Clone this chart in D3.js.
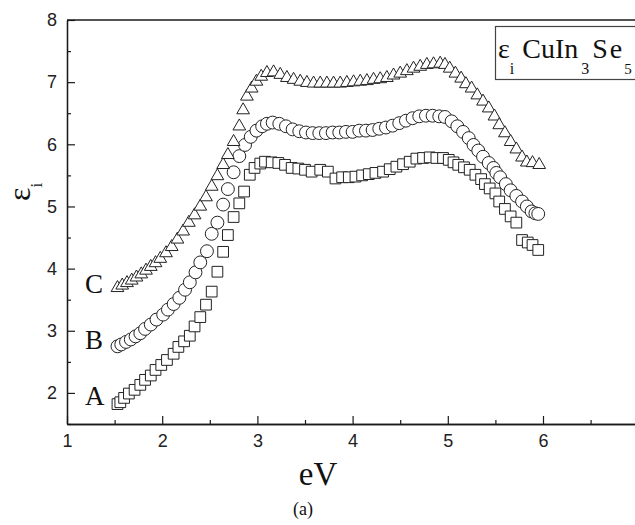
<!DOCTYPE html>
<html>
<head>
<meta charset="utf-8">
<script src="https://cdn.jsdelivr.net/npm/d3@7"></script>
<style>
  body { margin: 0; background: #fff; }
  svg { display: block; }
</style>
</head>
<body>
<div id="chart"></div>
<script>
// curve A (squares)
const aX = [1.53,1.56,1.60,1.65,1.71,1.77,1.82,1.88,1.93,1.99,2.05,2.12,2.17,2.23,2.29,2.34,2.40,2.46,2.52,2.58,2.64,2.69,2.75,2.81,2.86,2.92,2.97,3.03,3.08,3.15,3.22,3.29,3.36,3.43,3.50,3.57,3.66,3.74,3.82,3.89,3.96,4.03,4.10,4.17,4.24,4.32,4.39,4.46,4.53,4.60,4.67,4.74,4.81,4.88,4.95,5.01,5.06,5.11,5.17,5.23,5.29,5.35,5.39,5.44,5.50,5.54,5.60,5.66,5.72,5.78,5.84,5.89,5.95];
const aY = [1.82,1.85,1.92,1.99,2.05,2.13,2.21,2.28,2.37,2.45,2.53,2.63,2.74,2.83,2.92,3.07,3.22,3.42,3.63,3.95,4.27,4.54,4.83,5.05,5.24,5.51,5.62,5.69,5.72,5.71,5.70,5.67,5.62,5.61,5.59,5.56,5.59,5.56,5.45,5.47,5.47,5.48,5.50,5.52,5.54,5.56,5.60,5.64,5.68,5.72,5.77,5.78,5.79,5.78,5.78,5.75,5.71,5.67,5.63,5.59,5.51,5.44,5.36,5.29,5.21,5.08,4.96,4.84,4.74,4.46,4.42,4.38,4.30];

// curve B (circles)
const bX = [1.53,1.57,1.62,1.67,1.72,1.77,1.82,1.88,1.94,2.01,2.06,2.12,2.18,2.24,2.29,2.35,2.40,2.47,2.52,2.58,2.64,2.69,2.75,2.81,2.87,2.93,2.99,3.05,3.10,3.16,3.23,3.30,3.37,3.44,3.51,3.58,3.65,3.72,3.79,3.86,3.93,4.00,4.07,4.14,4.21,4.28,4.35,4.42,4.49,4.56,4.63,4.70,4.77,4.84,4.91,4.97,5.04,5.10,5.16,5.22,5.27,5.32,5.37,5.43,5.48,5.51,5.55,5.61,5.66,5.72,5.78,5.83,5.88,5.92,5.95];
const bY = [2.75,2.78,2.82,2.86,2.91,2.96,3.03,3.10,3.18,3.26,3.34,3.43,3.53,3.66,3.78,3.94,4.10,4.28,4.56,4.74,5.03,5.28,5.55,5.81,5.99,6.12,6.22,6.29,6.33,6.35,6.33,6.29,6.24,6.21,6.19,6.18,6.18,6.18,6.19,6.19,6.20,6.20,6.22,6.22,6.23,6.25,6.27,6.30,6.34,6.38,6.42,6.45,6.46,6.46,6.45,6.44,6.37,6.29,6.20,6.10,5.99,5.90,5.80,5.70,5.62,5.54,5.47,5.36,5.26,5.17,5.08,5.00,4.92,4.89,4.88];

// curve C (triangles)
const cX = [1.53,1.58,1.63,1.68,1.73,1.78,1.83,1.88,1.93,1.98,2.04,2.10,2.16,2.22,2.28,2.34,2.40,2.46,2.52,2.58,2.64,2.69,2.75,2.81,2.85,2.89,2.94,2.99,3.04,3.10,3.17,3.24,3.31,3.38,3.45,3.52,3.59,3.66,3.73,3.80,3.87,3.94,4.01,4.08,4.15,4.22,4.29,4.36,4.43,4.50,4.57,4.64,4.71,4.78,4.85,4.92,4.97,5.02,5.08,5.14,5.19,5.25,5.31,5.37,5.43,5.49,5.54,5.60,5.66,5.72,5.78,5.83,5.89,5.96];
const cY = [3.69,3.73,3.77,3.81,3.86,3.91,3.97,4.03,4.09,4.16,4.25,4.35,4.47,4.60,4.74,4.86,5.00,5.15,5.32,5.49,5.67,5.83,6.04,6.29,6.55,6.77,6.90,7.01,7.09,7.15,7.16,7.12,7.07,7.04,7.01,6.99,6.98,6.98,6.98,6.98,6.98,6.99,7.00,7.01,7.02,7.04,7.05,7.07,7.11,7.14,7.18,7.22,7.25,7.28,7.29,7.30,7.28,7.22,7.14,7.06,6.97,6.90,6.79,6.69,6.58,6.45,6.31,6.18,6.04,5.92,5.79,5.71,5.70,5.67];

const xTicks = [1, 2, 3, 4, 5, 6];
const yTicks = [2, 3, 4, 5, 6, 7, 8];
const curveLabels = ["A", "B", "C"];
const curveLabelY = [1.95, 2.85, 3.75];

const width = 635, height = 525;
const margin = {top: 20, left: 67, bottom: 424, right: 638.2};
const ink = "#1a1a1a";

const svg = d3.select("#chart").append("svg")
    .attr("width", width)
    .attr("height", height);

const x = d3.scaleLinear().domain([1, 7]).range([margin.left, margin.right]);
const y = d3.scaleLinear().domain([1.5, 8]).range([margin.bottom, margin.top]);

const minorX = [1.5, 2.5, 3.5, 4.5, 5.5, 6.5];
const minorY = [1.5, 2.5, 3.5, 4.5, 5.5, 6.5, 7.5];

function styleAxis(g) {
    g.selectAll("path.domain").attr("stroke", ink).attr("stroke-width", 1.3);
    g.selectAll(".tick line").attr("stroke", ink).attr("stroke-width", 1.2);
    g.selectAll(".tick text")
        .attr("fill", "#222")
        .style("font-family", "'Liberation Sans', Arial, sans-serif")
        .style("font-size", "18px");
}

// bottom axis
svg.append("g")
    .attr("transform", `translate(0,${margin.bottom})`)
    .call(d3.axisBottom(x).tickValues(xTicks).tickFormat(d3.format("d"))
        .tickSize(-8).tickSizeOuter(0).tickPadding(10))
    .call(styleAxis);
svg.append("g")
    .attr("transform", `translate(0,${margin.bottom})`)
    .call(d3.axisBottom(x).tickValues(minorX).tickFormat("").tickSize(-4).tickSizeOuter(0))
    .call(styleAxis);

// left axis
svg.append("g")
    .attr("transform", `translate(${margin.left},0)`)
    .call(d3.axisLeft(y).tickValues(yTicks).tickFormat(d3.format("d"))
        .tickSize(-8).tickSizeOuter(0).tickPadding(10))
    .call(styleAxis);
svg.append("g")
    .attr("transform", `translate(${margin.left},0)`)
    .call(d3.axisLeft(y).tickValues(minorY).tickFormat("").tickSize(-4).tickSizeOuter(0))
    .call(styleAxis);

// top frame line
svg.append("line")
    .attr("x1", margin.left).attr("x2", width)
    .attr("y1", margin.top).attr("y2", margin.top)
    .attr("stroke", ink).attr("stroke-width", 1.3);

// markers
const series = [
    {xs: aX, ys: aY, shape: d3.symbolSquare, size: 115},
    {xs: bX, ys: bY, shape: d3.symbolCircle, size: 130},
    {xs: cX, ys: cY, shape: d3.symbolTriangle, size: 70}
];

series.forEach(s => {
    const pts = s.xs.map((v, i) => ({x: v, y: s.ys[i]}));
    svg.append("g").selectAll("path")
        .data(pts)
        .enter()
        .append("path")
        .attr("transform", d => `translate(${x(d.x)},${y(d.y)})`)
        .attr("d", d3.symbol().type(s.shape).size(s.size))
        .attr("fill", "white")
        .attr("stroke", "#222")
        .attr("stroke-width", 1);
});

// curve letters
const serif = "'Liberation Serif', 'Times New Roman', serif";
svg.selectAll("text.curve")
    .data(curveLabels)
    .enter()
    .append("text")
    .attr("class", "curve")
    .attr("x", 85)
    .attr("y", (d, i) => y(curveLabelY[i]) + 9)
    .attr("fill", "#111")
    .style("font-family", serif)
    .style("font-size", "27px")
    .text(d => d);

// axis titles
svg.append("text")
    .attr("x", 318).attr("y", 485)
    .attr("text-anchor", "middle")
    .attr("fill", "#111")
    .style("font-family", serif)
    .style("font-size", "33px")
    .text("eV");

svg.append("text")
    .attr("x", 303).attr("y", 515)
    .attr("text-anchor", "middle")
    .attr("fill", "#111")
    .style("font-family", serif)
    .style("font-size", "18px")
    .text("(a)");

const yTitle = svg.append("text")
    .attr("transform", "translate(30,201) rotate(-90)")
    .attr("fill", "#111")
    .style("font-family", serif)
    .style("font-size", "32px");
yTitle.append("tspan").text("ε");
yTitle.append("tspan").attr("dy", 12).style("font-size", "17px").text("i");

// legend box
svg.append("rect")
    .attr("x", 495.5).attr("y", 26.5)
    .attr("width", 145).attr("height", 53)
    .attr("fill", "white")
    .attr("stroke", "#444")
    .attr("stroke-width", 1.2);

const legendText = svg.append("text")
    .attr("x", 498).attr("y", 58)
    .attr("fill", "#111")
    .style("font-family", serif)
    .style("font-size", "28px");
legendText.append("tspan").text("ε");
legendText.append("tspan").attr("dy", 16).style("font-size", "16px").text("i");
legendText.append("tspan").attr("dy", -16).attr("dx", 8).text("CuIn");
legendText.append("tspan").attr("dy", 16).attr("dx", 3).style("font-size", "16px").text("3");
legendText.append("tspan").attr("dy", -16).attr("dx", 3).style("letter-spacing", "2px").text("Se");
legendText.append("tspan").attr("dy", 16).style("font-size", "15px").text("5");
</script>
</body>
</html>
